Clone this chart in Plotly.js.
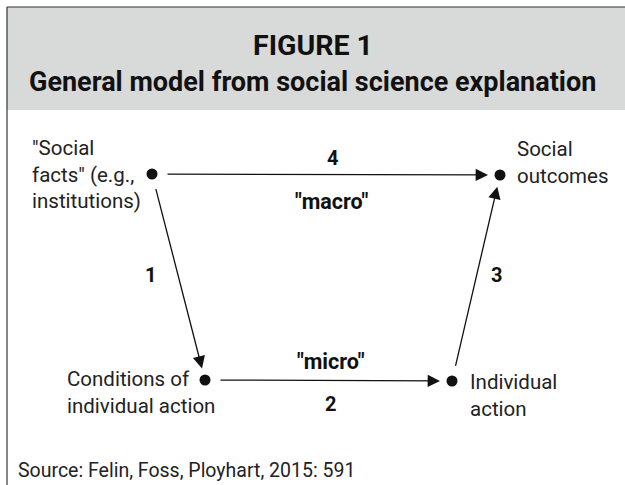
<!DOCTYPE html>
<html>
<head>
<meta charset="utf-8">
<script src="https://cdn.plot.ly/plotly-3.0.1.min.js"></script>
<style>html,body{margin:0;padding:0;background:#fff;}#chart{width:625px;height:485px;}</style>
</head>
<body>
<div id="chart"></div>
<script>
// ---- data ----
var figureLabel = 'FIGURE 1';
var figureTitle = 'General model from social science explanation';
var sourceText = 'Source: Felin, Foss, Ployhart, 2015: 591';

var nodeNames = ['"Social<br>facts" (e.g.,<br>institutions)', 'Social<br>outcomes', 'Conditions of<br>individual action', 'Individual<br>action'];
var nodeX = [152, 500, 205, 452];
var nodeY = [174, 175, 380, 381];

var edgeFrom = [0, 2, 3, 0];
var edgeTo = [2, 3, 1, 1];
var edgeNumbers = ['1', '2', '3', '4'];
var edgeLevels = ['', '"micro"', '', '"macro"'];

// ---- style ----
var FONT = 'Roboto, "DejaVu Sans", sans-serif';
var INK = '#111111';

var annotations = [];

// title
annotations.push({xref:'paper', yref:'paper', x:0.5, y:1 - 45/485, xanchor:'center', yanchor:'middle', showarrow:false,
  text:'<b>' + figureLabel + '</b>', font:{family:FONT, size:28.5, color:INK}});
annotations.push({xref:'paper', yref:'paper', x:0.5, y:1 - 82/485, xanchor:'center', yanchor:'middle', showarrow:false,
  text:'<b>' + figureTitle + '</b>', font:{family:FONT, size:27, color:INK}});
annotations.push({xref:'paper', yref:'paper', x:16/625, y:1 - 470/485, xanchor:'left', yanchor:'middle', showarrow:false,
  text:sourceText, font:{family:FONT, size:19.5, color:'#222'}});

// node labels (placement relative to node)
var labelStyle = [
  {xanchor:'right', xshift:-9, yshift:0},
  {xanchor:'left', xshift:15, yshift:13},
  {xanchor:'left', xshift:-140, yshift:-12},
  {xanchor:'left', xshift:16, yshift:-14}
];
for (var i = 0; i < nodeNames.length; i++) {
  var s = labelStyle[i];
  annotations.push({x:nodeX[i], y:nodeY[i], xref:'x', yref:'y', showarrow:false, text:nodeNames[i],
    xanchor:s.xanchor, yanchor:'middle', align:'left', xshift:s.xshift, yshift:s.yshift,
    font:{family:FONT, size:20.5, color:'#222'}});
}

// arrows
for (var e = 0; e < edgeFrom.length; e++) {
  var a = edgeFrom[e], b = edgeTo[e];
  annotations.push({x:nodeX[b], y:nodeY[b], ax:nodeX[a], ay:nodeY[a], xref:'x', yref:'y', axref:'x', ayref:'y',
    showarrow:true, arrowhead:2, arrowsize:1.9, arrowwidth:1.3, arrowcolor:INK, standoff:12, startstandoff:14, text:''});
}

// edge labels
var numShift = [[-28, 2], [2, -23], [20, 3], [6, 17]];
var levelShift = [[0, 0], [2, 19], [0, 0], [6, -27]];
for (var e2 = 0; e2 < edgeFrom.length; e2++) {
  var p = edgeFrom[e2], q = edgeTo[e2];
  var mx = (nodeX[p] + nodeX[q]) / 2, my = (nodeY[p] + nodeY[q]) / 2;
  annotations.push({x:mx, y:my, xref:'x', yref:'y', showarrow:false, text:'<b>' + edgeNumbers[e2] + '</b>',
    xshift:numShift[e2][0], yshift:numShift[e2][1], font:{family:FONT, size:20, color:INK}});
  if (edgeLevels[e2]) {
    annotations.push({x:mx, y:my, xref:'x', yref:'y', showarrow:false, text:'<b>' + edgeLevels[e2] + '</b>',
      xshift:levelShift[e2][0], yshift:levelShift[e2][1], font:{family:FONT, size:21.5, color:INK}});
  }
}

var traces = [{
  type:'scatter', mode:'markers', x:nodeX, y:nodeY,
  marker:{size:11, color:INK}, hoverinfo:'skip', showlegend:false
}];

var layout = {
  width:625, height:485,
  margin:{l:0, r:0, t:0, b:0},
  paper_bgcolor:'#ffffff', plot_bgcolor:'#ffffff',
  xaxis:{range:[0, 625], visible:false, fixedrange:true},
  yaxis:{range:[485, 0], visible:false, fixedrange:true},
  showlegend:false,
  shapes:[
    {type:'rect', xref:'paper', yref:'paper', x0:7/625, x1:1.01, y0:1 - 110/485, y1:1 - 7/485,
      fillcolor:'#d8d9d9', line:{width:0}, layer:'below'},
    {type:'line', xref:'paper', yref:'paper', x0:7/625, x1:1.01, y0:1 - 7/485, y1:1 - 7/485, line:{color:'#333', width:1.2}},
    {type:'line', xref:'paper', yref:'paper', x0:7/625, x1:7/625, y0:1 - 7/485, y1:-0.01, line:{color:'#333', width:1.2}}
  ],
  annotations:annotations
};

Plotly.newPlot('chart', traces, layout, {staticPlot:true, displayModeBar:false});
</script>
</body>
</html>
